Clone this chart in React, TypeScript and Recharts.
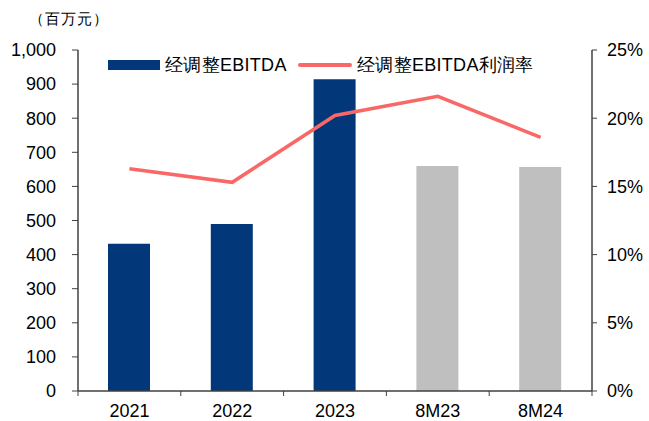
import React from 'react';
import {
  ComposedChart,
  Bar,
  Line,
  XAxis,
  YAxis,
  Cell,
} from 'recharts';

document.body.style.margin = '0';

const categories = ['2021', '2022', '2023', '8M23', '8M24'];
const ebitda = [432, 490, 914, 660, 657];
const margin = [16.3, 15.3, 20.2, 21.6, 18.6];
const barColors = ['#02377A', '#02377A', '#02377A', '#BFBFBF', '#BFBFBF'];
const leftTicks = [0, 100, 200, 300, 400, 500, 600, 700, 800, 900, 1000];
const rightTicks = [0, 5, 10, 15, 20, 25];

const data = categories.map((c, i) => ({ name: c, ebitda: ebitda[i], margin: margin[i] }));

const FONT = 'Liberation Sans, Arial, sans-serif';
const NAVY = '#02377A';
const RED = '#FA6767';
const CHART_W = 649;
const LEFT_W = 78;
const RIGHT_W = 57;
const BAND = (CHART_W - LEFT_W - RIGHT_W) / categories.length;

function XTick(props: any) {
  const { x, y, payload, index } = props;
  return (
    <g>
      <line x1={x - BAND / 2} y1={y - 8} x2={x - BAND / 2} y2={y - 3} stroke="#404040" strokeWidth={1} />
      {index === categories.length - 1 && (
        <line x1={x + BAND / 2} y1={y - 8} x2={x + BAND / 2} y2={y - 3} stroke="#404040" strokeWidth={1} />
      )}
      <text x={x} y={y + 18} textAnchor="middle" fontSize={18} fontFamily={FONT} fill="#000">
        {payload.value}
      </text>
    </g>
  );
}

function ChartLegend() {
  return (
    <div style={{ position: 'absolute', left: 0, top: 53, width: CHART_W, height: 24, fontFamily: FONT, fontSize: 18, color: '#000' }}>
      <div style={{ position: 'absolute', left: 108, top: 7, width: 52, height: 10, background: NAVY }} />
      <span style={{ position: 'absolute', left: 165, top: 0, whiteSpace: 'nowrap', letterSpacing: 0.3 }}>经调整EBITDA</span>
      <div style={{ position: 'absolute', left: 298, top: 10, width: 54, height: 4, background: RED, borderRadius: 2 }} />
      <span style={{ position: 'absolute', left: 357, top: 0, whiteSpace: 'nowrap', letterSpacing: 0.3 }}>经调整EBITDA利润率</span>
    </div>
  );
}

export default function App() {
  return (
    <div style={{ position: 'relative', width: CHART_W, height: 421, background: '#fff' }}>
      <div
        style={{
          position: 'absolute',
          left: 29,
          top: 10,
          fontFamily: FONT,
          fontSize: 15,
          letterSpacing: 1,
          color: '#000',
          whiteSpace: 'nowrap',
        }}
      >
        （百万元）
      </div>
      <ComposedChart
        width={CHART_W}
        height={421}
        data={data}
        margin={{ top: 50, right: 0, bottom: 0, left: 0 }}
        barCategoryGap="30%"
      >
        <XAxis
          dataKey="name"
          height={30}
          axisLine={{ stroke: '#404040', strokeWidth: 1.5 }}
          tickLine={false}
          tick={<XTick />}
          interval={0}
        />
        <YAxis
          yAxisId="left"
          width={LEFT_W}
          domain={[0, 1000]}
          ticks={leftTicks}
          interval={0}
          tickFormatter={(v: number) => v.toLocaleString('en-US')}
          axisLine={{ stroke: '#404040', strokeWidth: 1.5 }}
          tickLine={{ stroke: '#404040' }}
          tickSize={6}
          tickMargin={16}
          tick={{ fontSize: 18, fontFamily: FONT, fill: '#000' }}
        />
        <YAxis
          yAxisId="right"
          orientation="right"
          width={RIGHT_W}
          domain={[0, 25]}
          ticks={rightTicks}
          interval={0}
          tickFormatter={(v: number) => `${v}%`}
          axisLine={{ stroke: '#404040', strokeWidth: 1.5 }}
          tickLine={{ stroke: '#404040' }}
          tickSize={5}
          tickMargin={10}
          tick={{ fontSize: 18, fontFamily: FONT, fill: '#000' }}
        />
        <Bar yAxisId="left" dataKey="ebitda" name="经调整EBITDA" barSize={42} isAnimationActive={false}>
          {data.map((d, i) => (
            <Cell key={d.name} fill={barColors[i]} />
          ))}
        </Bar>
        <Line
          yAxisId="right"
          type="linear"
          dataKey="margin"
          name="经调整EBITDA利润率"
          stroke={RED}
          strokeWidth={3.5}
          dot={false}
          isAnimationActive={false}
        />
      </ComposedChart>
      <ChartLegend />
    </div>
  );
}
